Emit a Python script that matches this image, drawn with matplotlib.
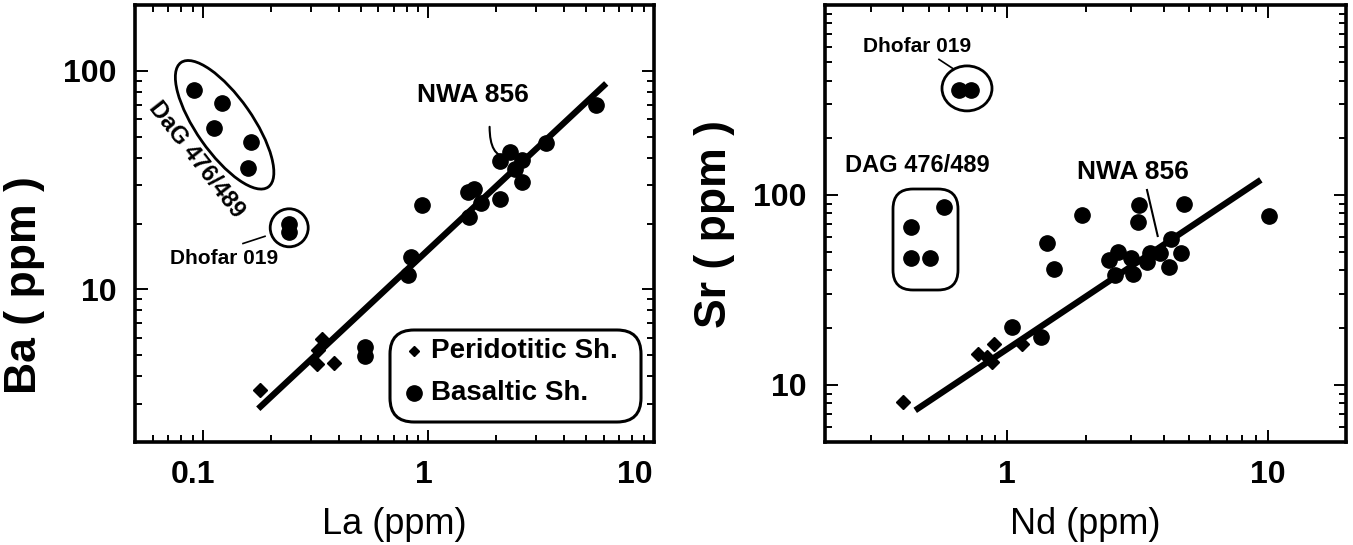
import matplotlib
matplotlib.use('Agg')
import matplotlib.pyplot as plt
import matplotlib.transforms as mtransforms
from matplotlib.patches import Ellipse, FancyBboxPatch
from matplotlib.ticker import LogLocator, NullFormatter

plt.rcParams['font.family'] = ['Liberation Sans', 'DejaVu Sans']

# ---- left panel: La vs Ba (ppm) ----
la_bas = [0.0916, 0.122, 0.112, 0.164, 0.159,          # DaG 476/489
          0.241, 0.241,                                # Dhofar 019
          0.836, 0.813, 0.935, 1.51, 1.49, 1.60, 1.71, 2.08, 2.08,
          2.61, 2.43, 2.61, 3.33, 5.53, 0.521, 0.521, 2.31]
ba_bas = [82.0, 71.0, 55.0, 47.0, 36.0,
          20.0, 18.3,
          14.0, 11.6, 24.3, 21.5, 27.9, 28.9, 24.7, 26.0, 38.6,
          39.0, 35.7, 31.0, 46.5, 69.7, 5.45, 4.94, 42.6]
la_per = [0.179, 0.337, 0.319, 0.380, 0.325]
ba_per = [3.45, 5.95, 4.57, 4.60, 5.26]
la_fit = [0.176, 6.14]
ba_fit = [2.84, 87.5]

# ---- right panel: Nd vs Sr (ppm) ----
nd_bas = [0.656, 0.730,                                # Dhofar 019
          0.428, 0.574, 0.428, 0.504,                  # DAG 476/489
          1.047, 1.344, 1.427, 1.516, 1.941, 2.468, 2.661, 2.605, 3.001, 3.048,
          3.217, 3.188, 3.438, 3.542, 3.877, 4.243, 4.180, 4.672, 4.757, 10.16]
sr_bas = [357, 357,
          67.9, 85.9, 46.3, 46.3,
          20.2, 17.9, 55.5, 40.5, 78.3, 45.7, 50.2, 37.8, 46.3, 38.5,
          88.4, 72.1, 44.4, 49.2, 49.2, 58.9, 41.8, 49.5, 89.4, 77.3]
nd_per = [0.40, 0.775, 0.887, 0.873, 1.146, 0.836]
sr_per = [8.12, 14.6, 16.5, 13.2, 16.5, 14.0]
nd_fit = [0.444, 9.42]
sr_fit = [7.34, 120.0]

fig = plt.figure(figsize=(13.53, 5.45), dpi=100)
ax1 = fig.add_axes([135 / 1353, 103 / 545, 519 / 1353, 437 / 545])
ax2 = fig.add_axes([825 / 1353, 103 / 545, 521 / 1353, 437 / 545])


def pix(ax):
    # coordinates in pixels from the lower-left corner of the axes
    return mtransforms.Affine2D().scale(1 / ax.bbox.width, 1 / ax.bbox.height) + ax.transAxes


def style(ax, xticks, xlabels, yticks, ylabels):
    ax.set_xscale('log')
    ax.set_yscale('log')
    for s in ax.spines.values():
        s.set_linewidth(2.6)
    ax.set_xticks(xticks, labels=xlabels, fontsize=23, fontweight='bold')
    ax.set_yticks(yticks, labels=ylabels, fontsize=23, fontweight='bold')
    ax.xaxis.set_minor_locator(LogLocator(base=10, subs=range(2, 10), numticks=20))
    ax.yaxis.set_minor_locator(LogLocator(base=10, subs=range(2, 10), numticks=20))
    ax.xaxis.set_minor_formatter(NullFormatter())
    ax.yaxis.set_minor_formatter(NullFormatter())
    ax.tick_params(which='both', direction='in', top=True, right=True, width=1.4)
    ax.tick_params(which='major', length=9, pad=13)
    ax.tick_params(which='minor', length=5)


# left panel
ax1.plot(la_fit, ba_fit, color='k', lw=4.5, solid_capstyle='butt')
ax1.plot(la_bas, ba_bas, 'o', color='k', ms=11, mec='k')
ax1.plot(la_per, ba_per, 'D', color='k', ms=7)
ax1.set_xlim(0.05, 10)
ax1.set_ylim(2, 200)
style(ax1, [0.1, 1, 10], ['0.1', '1', '10'], [10, 100], ['10', '100'])
# x tick labels of this panel sit a little left of their ticks
for lab, dx in zip(ax1.get_xticklabels(), [-10, -5, -19]):
    lab.set_transform(lab.get_transform() +
                      mtransforms.ScaledTranslation(dx / 100, 0, fig.dpi_scale_trans))
ax1.set_xlabel('La (ppm)', fontsize=26, labelpad=12)
ax1.set_ylabel('Ba ( ppm )', fontsize=32, fontweight='bold')
ax1.yaxis.set_label_coords(-0.173, 0.358)

t1 = pix(ax1)
ax1.add_patch(Ellipse((89.6, 317.2), 152, 56, angle=-55, transform=t1,
                      fill=False, lw=2, ec='k'))
ax1.text(61.7, 282, 'DaG 476/489', transform=t1, rotation=-52, ha='center', va='center',
         fontsize=17, fontweight='bold', rotation_mode='anchor')
ax1.add_patch(Ellipse((154.2, 214.2), 38, 38, transform=t1, fill=False, lw=2, ec='k'))
ax1.text(89, 183, 'Dhofar 019', transform=t1, ha='center', va='center',
         fontsize=15, fontweight='bold')
ax1.plot([108, 130], [198.5, 205.7], color='k', lw=1.2, transform=t1)
ax1.text(337.5, 346.9, 'NWA 856', transform=t1, ha='center', va='center',
         fontsize=19, fontweight='bold')
ax1.annotate('', xy=(371.7, 285.2), xycoords=t1, xytext=(354.6, 315.2), textcoords=t1,
             arrowprops=dict(arrowstyle='-', connectionstyle='angle3,angleA=90,angleB=0',
                             lw=1.5, color='k', shrinkA=0, shrinkB=0))

# legend box
ax1.add_patch(FancyBboxPatch((255, 20), 251, 92, boxstyle='round,pad=0,rounding_size=24',
                             transform=t1, fill=False, lw=2.2, ec='k'))
ax1.plot([278.5], [91], 'D', color='k', ms=5.5, transform=t1, clip_on=False)
ax1.plot([278.5], [49], 'o', color='k', ms=11, transform=t1, clip_on=False)
ax1.text(296.3, 91, 'Peridotitic Sh.', transform=t1, ha='left', va='center',
         fontsize=20, fontweight='bold')
ax1.text(296.3, 49, 'Basaltic Sh.', transform=t1, ha='left', va='center',
         fontsize=20, fontweight='bold')

# right panel
ax2.plot(nd_fit, sr_fit, color='k', lw=4.5, solid_capstyle='butt')
ax2.plot(nd_bas, sr_bas, 'o', color='k', ms=11)
ax2.plot(nd_per, sr_per, 'D', color='k', ms=7)
ax2.set_xlim(0.2, 20)
ax2.set_ylim(5, 1000)
style(ax2, [1, 10], ['1', '10'], [10, 100], ['10', '100'])
ax2.set_xlabel('Nd (ppm)', fontsize=26, labelpad=12)
ax2.set_ylabel('Sr ( ppm )', fontsize=32, fontweight='bold')
ax2.yaxis.set_label_coords(-0.173, 0.50)

t2 = pix(ax2)
ax2.add_patch(Ellipse((142, 353.6), 50, 45, transform=t2, fill=False, lw=2, ec='k'))
ax2.text(92, 395.3, 'Dhofar 019', transform=t2, ha='center', va='center',
         fontsize=15, fontweight='bold')
ax2.plot([114, 127.7], [382.6, 373.6], color='k', lw=1.2, transform=t2)
ax2.text(92, 276, 'DAG 476/489', transform=t2, ha='center', va='center',
         fontsize=17, fontweight='bold')
ax2.add_patch(FancyBboxPatch((68, 152), 65, 101, boxstyle='round,pad=0,rounding_size=20',
                             transform=t2, fill=False, lw=2, ec='k'))
ax2.text(308, 270, 'NWA 856', transform=t2, ha='center', va='center',
         fontsize=19, fontweight='bold')
ax2.plot([322, 332.7], [252, 206], color='k', lw=1.5, transform=t2)

fig.savefig('out.png', dpi=100)
